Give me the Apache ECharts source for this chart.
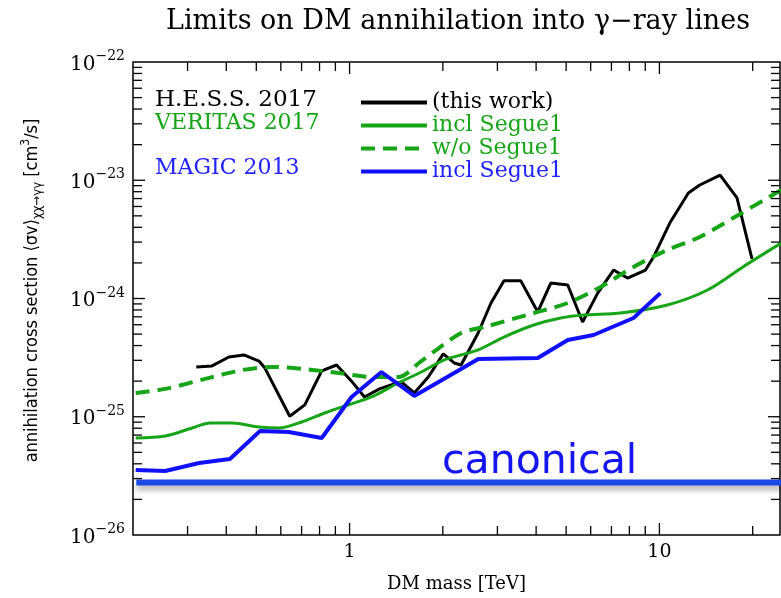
<!DOCTYPE html>
<html>
<head>
<meta charset="utf-8">
<script src="https://cdn.jsdelivr.net/npm/echarts@6/dist/echarts.min.js"></script>
<style>
  html, body { margin: 0; padding: 0; background: #fff; }
  #eChart { width: 781px; height: 598px; }
</style>
</head>
<body>
<div id="eChart"></div>
<script>
// all cross sections in cm^3/s
// H.E.S.S. 2017 (this work)
var hessX = [0.320, 0.360, 0.408, 0.456, 0.510, 0.533, 0.641, 0.717, 0.813, 0.908, 1.015, 1.117, 1.249, 1.385, 1.469, 1.618, 1.795, 2.006, 2.176, 2.29, 2.60, 2.86, 3.15, 3.57, 4.05, 4.46, 5.06, 5.65, 6.32, 7.11, 7.89, 9.02, 9.57, 10.85, 12.4, 13.5, 15.7, 17.8, 19.9];
var hessY = [2.64e-25, 2.69e-25, 3.20e-25, 3.33e-25, 2.96e-25, 2.58e-25, 1.01e-25, 1.26e-25, 2.44e-25, 2.74e-25, 2.00e-25, 1.47e-25, 1.72e-25, 1.89e-25, 1.97e-25, 1.59e-25, 2.17e-25, 3.40e-25, 2.85e-25, 2.74e-25, 5.11e-25, 9.16e-25, 1.41e-24, 1.41e-24, 7.69e-25, 1.35e-24, 1.30e-24, 6.33e-25, 1.11e-24, 1.74e-24, 1.49e-24, 1.74e-24, 2.24e-24, 4.44e-24, 7.80e-24, 9.12e-24, 1.107e-23, 7.08e-24, 2.16e-24];

// VERITAS 2017 incl Segue1
var verInclX = [0.204, 0.254, 0.303, 0.355, 0.418, 0.510, 0.591, 0.701, 0.831, 0.964, 1.177, 1.437, 1.704, 2.02, 2.29, 2.60, 3.15, 3.93, 4.80, 5.70, 7.49, 10.6, 14.3, 18.6, 24.7];
var verInclY = [6.61e-26, 6.88e-26, 7.87e-26, 8.85e-26, 8.85e-26, 8.19e-26, 8.03e-26, 9.03e-26, 1.076e-25, 1.233e-25, 1.47e-25, 1.93e-25, 2.39e-25, 3.02e-25, 3.33e-25, 3.67e-25, 4.72e-25, 5.97e-25, 6.84e-25, 7.25e-25, 7.54e-25, 8.81e-25, 1.18e-24, 1.85e-24, 2.94e-24];

// VERITAS 2017 w/o Segue1
var verWoX = [0.204, 0.254, 0.352, 0.449, 0.561, 0.717, 0.922, 1.177, 1.437, 1.704, 2.29, 2.72, 3.93, 5.06, 6.46, 8.25, 10.6, 13.5, 17.3, 24.7];
var verWoY = [1.59e-25, 1.72e-25, 2.13e-25, 2.48e-25, 2.64e-25, 2.53e-25, 2.34e-25, 2.17e-25, 2.17e-25, 2.96e-25, 5.11e-25, 5.74e-25, 7.54e-25, 9.16e-25, 1.25e-24, 1.85e-24, 2.57e-24, 3.31e-24, 4.80e-24, 8.27e-24];

// MAGIC 2013 incl Segue1
var magicX = [0.204, 0.254, 0.327, 0.411, 0.514, 0.637, 0.813, 1.015, 1.267, 1.618, 2.29, 2.60, 4.05, 5.06, 6.13, 8.25, 10.07];
var magicY = [3.55e-26, 3.48e-26, 4.06e-26, 4.40e-26, 7.57e-26, 7.43e-26, 6.61e-26, 1.47e-25, 2.39e-25, 1.50e-25, 2.53e-25, 3.08e-25, 3.14e-25, 4.46e-25, 4.91e-25, 6.84e-25, 1.11e-24];

// canonical thermal cross section
var canonicalX = [0.205, 25];
var canonicalY = [2.78e-26, 2.78e-26];

// axis ranges and ticks
var xMin = 0.2, xMax = 24.5;
var yMin = 1e-26, yMax = 1e-22;
var xMajorTicks = [1, 10];
var xMinorTicks = [0.3, 0.4, 0.5, 0.6, 0.7, 0.8, 0.9, 2, 3, 4, 5, 6, 7, 8, 9, 20];
var yMajorTicks = [1e-25, 1e-24, 1e-23];
var yMantissas = [2, 3, 4, 5, 6, 7, 8, 9];
var yDecades = [-26, -25, -24, -23];

// echarts log scale rounds tiny values to 0, so plot in units of 1e-26 cm^3/s
var yUnit = 1e-26;
var yUnitExp = -26;

function pairs(xs, ys) {
  return xs.map(function (x, i) { return [x, ys[i] / yUnit]; });
}

var tickData = [];
xMajorTicks.forEach(function (v) { tickData.push([v, 100, 0, 12]); });
xMinorTicks.forEach(function (v) { tickData.push([v, 100, 0, 9]); });
yMajorTicks.forEach(function (v) { tickData.push([1, v / yUnit, 1, 12]); });
yDecades.forEach(function (d) {
  yMantissas.forEach(function (m) { tickData.push([1, m * Math.pow(10, d - yUnitExp), 1, 9]); });
});

var green = '#16a516';
var blue = '#2222ff';
var serif = '"DejaVu Serif", "Liberation Serif", serif';
var narrow = '"Liberation Sans Narrow", "DejaVu Sans Condensed", sans-serif';

var chart = echarts.init(document.getElementById('eChart'));
var option = {
  animation: false,
  backgroundColor: '#fff',
  grid: {
    left: 133, right: 1, top: 62, bottom: 63,
    outerBoundsMode: 'none',
    containLabel: false,
    show: true, borderColor: '#000', borderWidth: 1.5
  },
  legend: {
    orient: 'vertical',
    left: 354,
    top: 86,
    itemWidth: 66,
    itemHeight: 14,
    itemGap: 0,
    itemStyle: { opacity: 0 },
    lineStyle: { width: 4 },
    textStyle: { fontFamily: serif, fontSize: 22, lineHeight: 23 },
    data: [
      { name: '(this work)', textStyle: { color: '#000' } },
      { name: 'incl Segue1', textStyle: { color: green } },
      { name: 'w/o Segue1', textStyle: { color: green } },
      { name: 'incl Segue1 ', textStyle: { color: blue } }
    ]
  },
  graphic: [
    { type: 'text', x: 458, y: 22, style: { text: 'Limits on DM annihilation into γ−ray lines', fontFamily: serif, fontSize: 27, fill: '#000', align: 'center', verticalAlign: 'middle' } },
    { type: 'text', x: 155, y: 100, style: { text: 'H.E.S.S. 2017', fontFamily: serif, fontSize: 23, fill: '#000', verticalAlign: 'middle' } },
    { type: 'text', x: 155, y: 123, style: { text: 'VERITAS 2017', fontFamily: serif, fontSize: 22, fill: green, verticalAlign: 'middle' } },
    { type: 'text', x: 155, y: 168, style: { text: 'MAGIC 2013', fontFamily: serif, fontSize: 22, fill: blue, verticalAlign: 'middle' } },
    { type: 'text', left: 442, top: 442, z: 10, style: { text: 'canonical', fontFamily: '"Comic Sans MS", "DejaVu Sans", sans-serif', fontSize: 41, fill: '#1515f0' } }
  ],
  xAxis: {
    type: 'log',
    logBase: 10,
    min: xMin,
    max: xMax,
    name: 'DM mass [TeV]',
    nameLocation: 'middle',
    nameGap: 40,
    nameTextStyle: { fontFamily: serif, fontSize: 18, color: '#000' },
    axisLine: { show: false },
    axisTick: { show: false },
    splitLine: { show: false },
    axisLabel: {
      margin: 8,
      showMinLabel: false,
      showMaxLabel: false,
      fontFamily: serif,
      fontSize: 19,
      color: '#000',
      formatter: function (v) {
        var e = Math.log10(v);
        if (Math.abs(e - Math.round(e)) > 1e-6) return '';
        return String(Math.round(v));
      }
    }
  },
  yAxis: {
    type: 'log',
    logBase: 10,
    min: yMin / yUnit,
    max: yMax / yUnit,
    name: '{n|annihilation cross section ⟨σv⟩}{sub|χχ→γγ}{n| [cm}{sup|3}{n|/s]}',
    nameLocation: 'middle',
    nameGap: 92,
    nameRotate: 90,
    nameTextStyle: {
      color: '#000',
      padding: [0, 0, 0, 16],
      rich: {
        n: { fontFamily: narrow, fontSize: 18, color: '#000', verticalAlign: 'bottom' },
        sub: { fontFamily: narrow, fontSize: 13, color: '#000', verticalAlign: 'bottom', padding: [0, 0, -3, 0] },
        sup: { fontFamily: narrow, fontSize: 12, color: '#000', verticalAlign: 'bottom', padding: [0, 0, 9, 0] }
      }
    },
    axisLine: { show: false },
    axisTick: { show: false },
    splitLine: { show: false },
    axisLabel: {
      margin: 8,
      formatter: function (v) {
        var e = Math.round(Math.log10(v)) + yUnitExp;
        return '{b|10}{s|−' + Math.abs(e) + '}';
      },
      rich: {
        b: { fontFamily: serif, fontSize: 20, color: '#000', verticalAlign: 'bottom' },
        s: { fontFamily: serif, fontSize: 14, color: '#000', verticalAlign: 'bottom', padding: [0, 0, 11, 0] }
      }
    }
  },
  series: [
    {
      name: '(this work)',
      type: 'line',
      symbol: 'none',
      data: pairs(hessX, hessY),
      lineStyle: { color: '#000', width: 3 },
      itemStyle: { color: '#000' }
    },
    {
      name: 'incl Segue1',
      type: 'line',
      symbol: 'none',
      smooth: 0.3,
      data: pairs(verInclX, verInclY),
      lineStyle: { color: green, width: 3 },
      itemStyle: { color: green }
    },
    {
      name: 'w/o Segue1',
      type: 'line',
      symbol: 'none',
      smooth: 0.3,
      data: pairs(verWoX, verWoY),
      lineStyle: { color: green, width: 4, type: [14, 8] },
      itemStyle: { color: green }
    },
    {
      name: 'incl Segue1 ',
      type: 'line',
      symbol: 'none',
      data: pairs(magicX, magicY),
      lineStyle: { color: '#1010ff', width: 4 },
      itemStyle: { color: '#1010ff' }
    },
    {
      name: 'canonical',
      type: 'line',
      symbol: 'none',
      data: pairs(canonicalX, canonicalY),
      lineStyle: {
        color: '#1a4ae6', width: 6,
        shadowColor: 'rgba(0,0,0,0.35)', shadowBlur: 6, shadowOffsetY: 4
      },
      z: 5
    },
    {
      name: 'ticks',
      type: 'custom',
      silent: true,
      clip: false,
      z: 20,
      data: tickData,
      renderItem: function (params, api) {
        var item = tickData[params.dataIndex];
        var len = item[3];
        var style = { stroke: '#000', lineWidth: 1.3 };
        if (item[2] === 0) {
          var b = api.coord([item[0], yMin / yUnit]);
          var t = api.coord([item[0], yMax / yUnit]);
          return {
            type: 'group',
            children: [
              { type: 'line', shape: { x1: b[0], y1: b[1], x2: b[0], y2: b[1] - len }, style: style },
              { type: 'line', shape: { x1: t[0], y1: t[1], x2: t[0], y2: t[1] + len }, style: style }
            ]
          };
        }
        var l = api.coord([xMin, item[1]]);
        var r = api.coord([xMax, item[1]]);
        return {
          type: 'group',
          children: [
            { type: 'line', shape: { x1: l[0], y1: l[1], x2: l[0] + len, y2: l[1] }, style: style },
            { type: 'line', shape: { x1: r[0], y1: r[1], x2: r[0] - len, y2: r[1] }, style: style }
          ]
        };
      }
    }
  ]
};
chart.setOption(option);
</script>
</body>
</html>
